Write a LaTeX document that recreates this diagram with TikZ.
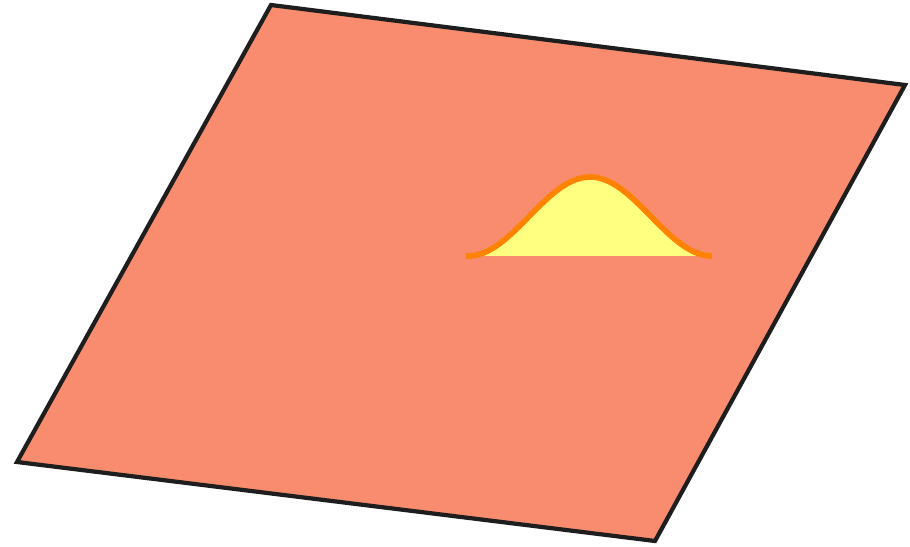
\documentclass[tikz,border=0pt]{standalone}
\definecolor{planecol}{HTML}{F98C6F}
\definecolor{bumpfill}{HTML}{FFFF80}
\definecolor{bumpline}{HTML}{FF8200}
\definecolor{edgecol}{HTML}{1E1E1E}
\begin{document}
\begin{tikzpicture}[x=0.02cm, y=-0.02cm, line join=miter]
        \useasboundingbox (0,0) rectangle (910,547);
        \coordinate (tl) at (271,5);
        \coordinate (tr) at (905,85);
        \coordinate (br) at (655,541);
        \coordinate (bl) at (17,462);
        \filldraw[fill=planecol, draw=edgecol, line width=2.4pt]
        (tl) -- (tr) -- (br) -- (bl) -- cycle;
        \fill[bumpfill] (468,256) -- plot[domain=468:712, samples=90]
        (\x, {256-39.5*(1+cos((\x-590)*1.4754))}) -- cycle;
        \draw[bumpline, line width=3.2pt] (466,256) -- plot[domain=468:712, samples=90]
        (\x, {256-39.5*(1+cos((\x-590)*1.4754))});
    \end{tikzpicture}
\end{document}
